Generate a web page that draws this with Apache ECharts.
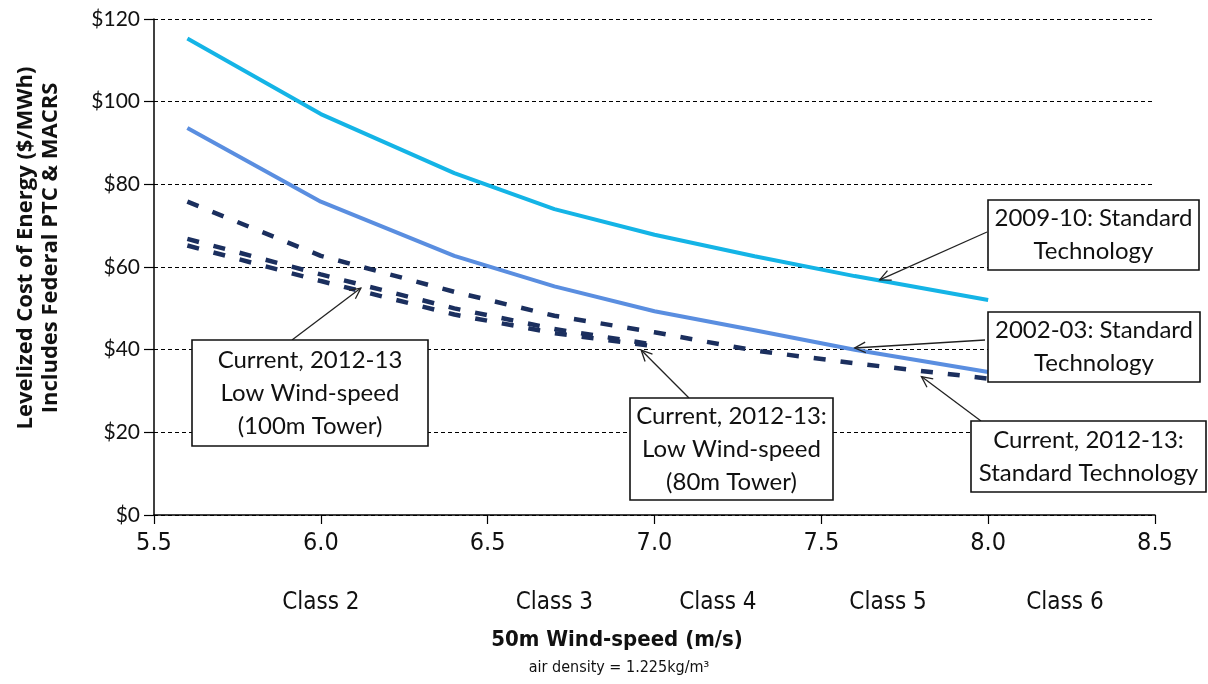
<!DOCTYPE html>
<html><head><meta charset="utf-8">
<script src="https://cdn.jsdelivr.net/npm/echarts@6/dist/echarts.min.js"></script>
<style>html,body{margin:0;padding:0;background:#fff}#c{width:1208px;height:684px}</style>
</head><body><div id="c"></div>
<script>
// ---- data ----
const windSpeeds = [5.6, 6.0, 6.4, 6.7, 7.0, 7.3, 7.6, 8.0];
const lowWindSpeeds = [5.6, 6.0, 6.4, 6.7, 7.0];
const std2009 = [115.3, 97.0, 82.7, 74.0, 67.8, 62.6, 57.8, 52.0];
const std2002 = [93.6, 75.8, 62.7, 55.3, 49.3, 44.7, 40.0, 34.6];
const std2012 = [75.8, 62.7, 54.0, 48.2, 44.2, 39.8, 36.7, 33.0];
const low100 = [66.8, 58.2, 50.0, 45.0, 41.2];
const low80 = [65.2, 56.6, 48.5, 44.0, 40.8];
const xMin = 5.5, xMax = 8.5, xStep = 0.5;
const yMin = 0, yMax = 120, yStep = 20;
const classLabels = ['Class 2', 'Class 3', 'Class 4', 'Class 5', 'Class 6'];
const classCenters = [6.0, 6.7, 7.19, 7.7, 8.23];
const yTitle = ['Levelized Cost of Energy ($/MWh)', 'Includes Federal PTC & MACRS'];
const xTitle = '50m Wind-speed (m/s)';
const xSubTitle = 'air density = 1.225kg/m³';
const notes = [
  { lines: ['2009-10: Standard', 'Technology'], tip: [7.675, 56.9] },
  { lines: ['2002-03: Standard', 'Technology'], tip: [7.6, 40.4] },
  { lines: ['Current, 2012-13:', 'Standard Technology'], tip: [7.8, 33.5] },
  { lines: ['Current, 2012-13', 'Low Wind-speed', '(100m Tower)'], tip: [6.12, 54.9] },
  { lines: ['Current, 2012-13:', 'Low Wind-speed', '(80m Tower)'], tip: [6.96, 39.9] }
];
// layout of annotation boxes (pixels) and arrow start points
const noteBoxes = [
  { x: 988, y: 200, w: 211, h: 70, from: [987, 232] },
  { x: 988, y: 312, w: 212, h: 70, from: [985, 340] },
  { x: 971, y: 421, w: 235, h: 71, from: [981, 421] },
  { x: 192, y: 340, w: 236, h: 106, from: [292, 340] },
  { x: 630, y: 398, w: 203, h: 102, from: [689, 398] }
];

const pair = (xs, ys) => ys.map((v, i) => [xs[i], v]);
const NARROW = "'Liberation Sans Narrow','DejaVu Sans Condensed',sans-serif";
const SANS = "Lato,'Open Sans',sans-serif";

const chart = echarts.init(document.getElementById('c'), null, { renderer: 'canvas' });
const dashNavy = { color: '#1b2f5e', width: 4.5, type: [12, 15], cap: 'butt' };
chart.setOption({
  animation: false,
  backgroundColor: '#fff',
  grid: { left: 154, right: 53, top: 19, bottom: 169, containLabel: false },
  xAxis: {
    type: 'value', min: xMin, max: xMax, interval: xStep,
    axisLine: { show: true, onZero: false, lineStyle: { color: '#000', width: 1.5 } },
    axisTick: { show: true, length: 9, lineStyle: { color: '#000', width: 1.2 } },
    axisLabel: { color: '#111', fontFamily: NARROW, fontSize: 25, margin: 16,
      formatter: v => v.toFixed(1) },
    splitLine: { show: false }
  },
  yAxis: {
    type: 'value', min: yMin, max: yMax, interval: yStep,
    axisLine: { show: true, lineStyle: { color: '#000', width: 1.5 } },
    axisTick: { show: true, length: 10, lineStyle: { color: '#000', width: 1.2 } },
    axisLabel: { color: '#111', fontFamily: SANS, fontSize: 21, margin: 14,
      formatter: v => '$' + v },
    splitLine: { show: true, lineStyle: { color: '#000', width: 1, type: [4, 3] } }
  },
  series: [
    { name: 'Current, 2012-13: Low Wind-speed (80m Tower)', type: 'line', symbol: 'none',
      data: pair(lowWindSpeeds, low80), lineStyle: dashNavy, z: 2 },
    { name: 'Current, 2012-13 Low Wind-speed (100m Tower)', type: 'line', symbol: 'none',
      data: pair(lowWindSpeeds, low100), lineStyle: dashNavy, z: 2 },
    { name: 'Current, 2012-13: Standard Technology', type: 'line', symbol: 'none',
      data: pair(windSpeeds, std2012), lineStyle: dashNavy, z: 2 },
    { name: '2002-03: Standard Technology', type: 'line', symbol: 'none',
      data: pair(windSpeeds, std2002), lineStyle: { color: '#5a8ee0', width: 4 }, z: 3 },
    { name: '2009-10: Standard Technology', type: 'line', symbol: 'none',
      data: pair(windSpeeds, std2009), lineStyle: { color: '#14b4e6', width: 4 }, z: 3 }
  ]
});

const g = [];
// y axis title
g.push({ type: 'text', x: 38, y: 248, rotation: Math.PI / 2, z: 50,
  style: { text: yTitle.join('\n'), font: 'bold 22px ' + "'Open Sans',sans-serif", fill: '#111',
    align: 'center', verticalAlign: 'middle', lineHeight: 25 } });
// class labels
classLabels.forEach((t, i) => {
  const p = chart.convertToPixel({ gridIndex: 0 }, [classCenters[i], 0]);
  g.push({ type: 'text', x: p[0], y: 603, z: 50,
    style: { text: t, font: '24px ' + NARROW, fill: '#111', align: 'center', verticalAlign: 'middle' } });
});
g.push({ type: 'text', x: 617, y: 640, z: 50,
  style: { text: xTitle, font: 'bold 22px ' + NARROW, fill: '#111', align: 'center', verticalAlign: 'middle' } });
g.push({ type: 'text', x: 619, y: 668, z: 50,
  style: { text: xSubTitle, font: '16px ' + NARROW, fill: '#111', align: 'center', verticalAlign: 'middle' } });
// annotations
notes.forEach((n, i) => {
  const b = noteBoxes[i];
  const tip = chart.convertToPixel({ gridIndex: 0 }, n.tip);
  const from = b.from;
  const dx = tip[0] - from[0], dy = tip[1] - from[1];
  const len = Math.hypot(dx, dy), ux = dx / len, uy = dy / len;
  const hl = 12, ang = 0.45;
  const rot = (a) => [ux * Math.cos(a) - uy * Math.sin(a), ux * Math.sin(a) + uy * Math.cos(a)];
  const r1 = rot(ang), r2 = rot(-ang);
  g.push({ type: 'line', z: 60, shape: { x1: from[0], y1: from[1], x2: tip[0], y2: tip[1] },
    style: { stroke: '#222', lineWidth: 1.3 } });
  g.push({ type: 'polyline', z: 60, shape: { points: [
      [tip[0] - r1[0] * hl, tip[1] - r1[1] * hl], tip, [tip[0] - r2[0] * hl, tip[1] - r2[1] * hl]] },
    style: { stroke: '#222', lineWidth: 1.3, fill: null } });
  g.push({ type: 'rect', z: 70, shape: { x: b.x, y: b.y, width: b.w, height: b.h },
    style: { fill: '#fff', stroke: '#111', lineWidth: 1.6 } });
  g.push({ type: 'text', z: 71, x: b.x + b.w / 2, y: b.y + b.h / 2,
    style: { text: n.lines.join('\n'), font: '24px ' + SANS, fill: '#111', align: 'center',
      verticalAlign: 'middle', lineHeight: 33 } });
});
chart.setOption({ graphic: g });
</script>
</body></html>
